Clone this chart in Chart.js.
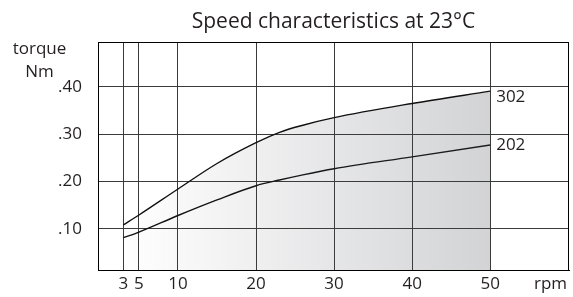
<!DOCTYPE html>
<html>
<head>
<meta charset="utf-8">
<script src="https://cdn.jsdelivr.net/npm/chart.js@4.4.1/dist/chart.umd.min.js"></script>
<style>
  html, body { margin: 0; padding: 0; background: #fff; }
  #wrap { width: 573px; height: 297px; position: relative; }
</style>
</head>
<body>
<div id="wrap"><canvas id="speedChart"></canvas></div>
<script>
  // values
  const rpm = [3, 5, 10, 15, 20, 23, 26, 30, 40, 50];
  const torque302 = [0.108, 0.129, 0.184, 0.238, 0.282, 0.304, 0.319, 0.335, 0.365, 0.391];
  const torque202 = [0.081, 0.093, 0.128, 0.161, 0.191, 0.203, 0.214, 0.227, 0.252, 0.277];
  const seriesNames = ["302", "202"];
  const xTicks = [3, 5, 10, 20, 30, 40, 50];
  const yTicks = [0.1, 0.2, 0.3, 0.4];

  const FONT = "'Open Sans', sans-serif";
  const INK = "#231f20";

  function toPoints(ys) {
    return rpm.map((x, i) => ({ x: x, y: ys[i] }));
  }

  // horizontal gradient under the upper curve
  function shade(context) {
    const chart = context.chart;
    if (!chart.chartArea) return "rgba(0,0,0,0)";
    const xs = chart.scales.x;
    const g = chart.ctx.createLinearGradient(
      xs.getPixelForValue(rpm[0]), 0,
      xs.getPixelForValue(rpm[rpm.length - 1]), 0
    );
    g.addColorStop(0, "rgba(70,72,82,0)");
    g.addColorStop(1, "rgba(70,72,82,0.24)");
    return g;
  }

  // frame, title, axis captions and curve names
  const decor = {
    id: "decor",
    afterDraw(chart) {
      const { ctx, chartArea: a } = chart;
      ctx.save();
      ctx.strokeStyle = "#000";
      ctx.lineWidth = 1;
      ctx.strokeRect(Math.round(a.left) + 0.5, Math.round(a.top) + 0.5,
        Math.round(a.right - a.left) - 1, Math.round(a.bottom - a.top) - 1);

      ctx.fillStyle = INK;
      ctx.textAlign = "center";
      ctx.textBaseline = "alphabetic";
      ctx.font = "21px " + FONT;
      ctx.fillText("Speed characteristics at 23\u00b0C", (a.left + a.right) / 2, 28);

      ctx.font = "17px " + FONT;
      ctx.fillText("torque", 39.5, 54);
      ctx.fillText("Nm", 39.5, 77);
      ctx.fillText("rpm", 550.5, 289);

      ctx.textAlign = "left";
      ctx.textBaseline = "middle";
      const dy = [6, 0];
      chart.data.datasets.forEach((ds, i) => {
        const pts = chart.getDatasetMeta(i).data;
        const p = pts[pts.length - 1];
        ctx.fillText(seriesNames[i], p.x + 6, p.y + dy[i]);
      });
      ctx.restore();
    }
  };

  const ctx = document.getElementById("speedChart").getContext("2d");
  new Chart(ctx, {
    type: "line",
    data: {
      datasets: [
        {
          label: seriesNames[0],
          data: toPoints(torque302),
          borderColor: "#111",
          borderWidth: 1.4,
          pointRadius: 0,
          cubicInterpolationMode: "monotone",
          fill: "start",
          backgroundColor: shade,
        },
        {
          label: seriesNames[1],
          data: toPoints(torque202),
          borderColor: "#111",
          borderWidth: 1.4,
          pointRadius: 0,
          cubicInterpolationMode: "monotone",
          fill: false,
        },
      ],
    },
    options: {
      responsive: true,
      maintainAspectRatio: false,
      animation: false,
      layout: { padding: { top: 42, right: 4, left: 0, bottom: 0 } },
      plugins: {
        legend: { display: false },
        title: { display: false },
        tooltip: { enabled: false },
      },
      scales: {
        x: {
          type: "linear",
          min: -0.25,
          max: 60.1,
          afterBuildTicks: (s) => { s.ticks = xTicks.map((v) => ({ value: v })); },
          afterFit: (s) => { s.height = 25; },
          grid: { color: "#3a3a3a", lineWidth: 1, drawTicks: false },
          border: { display: true, color: "#000", width: 1 },
          ticks: {
            color: INK,
            font: { family: FONT, size: 17 },
            padding: 3,
            maxRotation: 0,
            autoSkip: false,
          },
        },
        y: {
          type: "linear",
          min: 0.011,
          max: 0.495,
          afterBuildTicks: (s) => { s.ticks = yTicks.map((v) => ({ value: v })); },
          afterFit: (s) => { s.width = 98; },
          grid: { color: "#3a3a3a", lineWidth: 1, drawTicks: false },
          border: { display: true, color: "#000", width: 1 },
          ticks: {
            color: INK,
            font: { family: FONT, size: 17 },
            padding: 16,
            callback: (v) => v.toFixed(2).replace(/^0/, ""),
          },
        },
      },
    },
    plugins: [decor],
  });
</script>
</body>
</html>
